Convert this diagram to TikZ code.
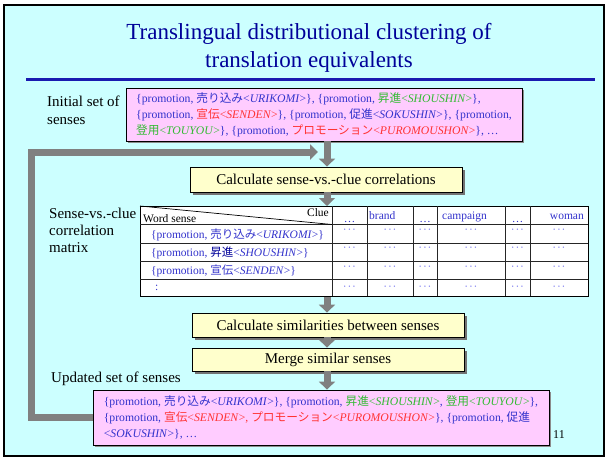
\documentclass[tikz,border=0pt]{standalone}
\usepackage{fontspec}
\setmainfont{Liberation Serif}
\newfontfamily\cjkfont{Noto Sans CJK JP}
\usetikzlibrary{arrows.meta,shadows}
\definecolor{slidebg}{HTML}{CCFFFF}
\definecolor{titleblue}{HTML}{000099}
\definecolor{ruleblue}{HTML}{1A1AB0}
\definecolor{txtblue}{HTML}{3333CC}
\definecolor{darkblue}{HTML}{000099}
\definecolor{txtgreen}{HTML}{33BB33}
\definecolor{txtred}{HTML}{FF3333}
\definecolor{pinkfill}{HTML}{FFCCFF}
\definecolor{yelfill}{HTML}{FFFFCC}
\definecolor{arrowgray}{HTML}{808080}
\definecolor{dotblue}{HTML}{7777EE}
\newcommand\jtext[1]{{\cjkfont #1}}
\newcommand\grn[1]{\textcolor{txtgreen}{#1}}
\newcommand\redt[1]{\textcolor{txtred}{#1}}
\newcommand\prom{\{promotion, }
\newcommand\mdots{\textperiodcentered\kern0.8pt\textperiodcentered\kern0.8pt\textperiodcentered}
\tikzset{
  lbl/.style={font=\fontsize{15}{17}\selectfont, anchor=base west, inner sep=0pt},
  sensebox/.style={draw=black, line width=0.8pt, fill=pinkfill, align=left, inner sep=0pt,
    font=\fontsize{11.7}{16}\selectfont, text=txtblue,
    drop shadow={shadow xshift=1.5pt, shadow yshift=-1.5pt, fill=black!45, opacity=1}},
  calcbox/.style={draw=black, line width=0.8pt, fill=yelfill, inner sep=0pt,
    font=\fontsize{15}{18}\selectfont, minimum width=272pt,
    drop shadow={shadow xshift=2.5pt, shadow yshift=-2.5pt, fill=black!55, opacity=1}},
  flow/.style={draw=arrowgray, line width=7pt, -{Triangle[width=16pt,length=8pt]}},
  loopline/.style={draw=arrowgray, line width=7pt, line join=miter, -{Triangle[width=15pt,length=8pt]}},
  tabtxt/.style={font=\fontsize{11.5}{13}\selectfont, inner sep=0pt},
  tabline/.style={draw=black!85, line width=0.9pt},
  celldots/.style={tabtxt, text=dotblue, anchor=base},
}
\begin{document}
\begin{tikzpicture}[x=1pt, y=-1pt]
\useasboundingbox (0,0) rectangle (608,459);
\fill[white] (0,0) rectangle (608,459);
\draw[line width=2pt, fill=slidebg] (4,5) rectangle (604,456);

% title
\node[font=\fontsize{23}{28}\selectfont, text=titleblue, anchor=base, inner sep=0pt] (t1) at (309,39) {Translingual distributional clustering of};
\node[font=\fontsize{23}{28}\selectfont, text=titleblue, anchor=base, inner sep=0pt] (t2) at (309,67) {translation equivalents};
\draw[ruleblue, line width=3pt] (26,79) -- (595,79);

% labels
\node[lbl] (l1a) at (47,106) {Initial set of};
\node[lbl] (l1b) at (47,124) {senses};
\node[lbl] (l2a) at (49,218) {Sense-vs.-clue};
\node[lbl] (l2b) at (49,235) {correlation};
\node[lbl] (l2c) at (49,252) {matrix};
\node[lbl] (l3) at (51,382) {Updated set of senses};

% initial senses
\node[sensebox, minimum width=396pt, minimum height=53pt] (init) at (324,114.5) {%
\prom\jtext{売り込み}<\textit{URIKOMI}>\}, \prom\grn{\jtext{昇進}<\textit{SHOUSHIN}>}\},\\
\prom\redt{\jtext{宣伝}<\textit{SENDEN}>}\}, \prom\jtext{促進}<\textit{SOKUSHIN}>\}, \{promotion,\\
\grn{\jtext{登用}<\textit{TOUYOU}>}\}, \prom\redt{\jtext{プロモーション}<\textit{PUROMOUSHON}>}\}, …};

% process boxes
\node[calcbox, minimum height=25pt] (c1) at (326,179.5) {Calculate sense-vs.-clue correlations};
\node[calcbox, minimum height=24pt] (c2) at (328,325) {Calculate similarities between senses};
\node[calcbox, minimum height=23pt] (c3) at (328,359.5) {Merge similar senses};

% final senses
\node[sensebox, minimum width=456pt, minimum height=55pt] (fin) at (321,417.5) {%
\prom\jtext{売り込み}<\textit{URIKOMI}>\}, \prom\grn{\jtext{昇進}<\textit{SHOUSHIN}>}, \grn{\jtext{登用}<\textit{TOUYOU}>}\},\\
\prom\redt{\jtext{宣伝}<\textit{SENDEN}>, \jtext{プロモーション}<\textit{PUROMOUSHON}>}\}, \prom\jtext{促進}\\
<\textit{SOKUSHIN}>\}, …};

\node[font=\fontsize{12}{14}\selectfont, anchor=base west, inner sep=0pt] (pg) at (553,438) {11};

% table
\node[draw=black, line width=1pt, fill=white, minimum width=448pt, minimum height=90pt, anchor=north west, inner sep=0pt] (tbl) at (140,206) {};
\foreach \xx in {332,367,413,437,505,530}
  \draw[tabline] (\xx,206) -- (\xx,296);
\foreach \yy in {224.5,243,261.5,279}
  \draw[tabline] (140,\yy) -- (588,\yy);
\coordinate (hc) at (332,224.5);
\draw[line width=0.7pt] (tbl.north west) -- (hc);
\node[tabtxt, anchor=base east] (clue) at (329,216) {Clue};
\node[tabtxt, anchor=base west] (ws) at (143,222.5) {Word sense};
\node[tabtxt, anchor=base, text=txtblue] (h2) at (349.5,222) {…};
\node[tabtxt, anchor=base west, text=txtblue] (h3) at (369,219.5) {brand};
\node[tabtxt, anchor=base, text=txtblue] (h4) at (425,222) {…};
\node[tabtxt, anchor=base west, text=txtblue] (h5) at (442,219.5) {campaign};
\node[tabtxt, anchor=base, text=txtblue] (h6) at (517.5,222) {…};
\node[tabtxt, anchor=base east, text=txtblue] (h7) at (584,219.5) {woman};
\node[tabtxt, anchor=base west, text=txtblue] (r1) at (151,238.5) {\prom\jtext{売り込み}<\textit{URIKOMI}>\}};
\node[tabtxt, anchor=base west, text=txtblue] (r2) at (151,256.5) {\prom\textcolor{darkblue}{\jtext{昇進}}<\textit{SHOUSHIN}>\}};
\node[tabtxt, anchor=base west, text=txtblue] (r3) at (151,274) {\prom\jtext{宣伝}<\textit{SENDEN}>\}};
\node[tabtxt, anchor=base west, text=txtblue] (r4) at (155,290) {:};
\foreach \yy [count=\ri] in {233,251,270,290}
  \foreach \xx [count=\ci] in {349.5,390,425,471,517.5,559}
    \node[celldots] (d-\ri-\ci) at (\xx,\yy) {\mdots};

% flow arrows
\coordinate (ax) at (327,0);
\draw[flow] (init.south -| ax) -- (c1.north -| ax);
\draw[flow] (c1.south -| ax) -- (tbl.north -| ax);
\draw[flow] (tbl.south -| ax) -- (c2.north -| ax);
\draw[flow] (c2.south -| ax) -- (c3.north -| ax);
\draw[flow] (c3.south -| ax) -- (fin.north -| ax);
% loop back
\coordinate (lp1) at (31,417.5);
\coordinate (lp2) at (31,152);
\coordinate (lp3) at (318,152);
\draw[loopline] (fin.west) -- (lp1) -- (lp2) -- (lp3);
\end{tikzpicture}
\end{document}
